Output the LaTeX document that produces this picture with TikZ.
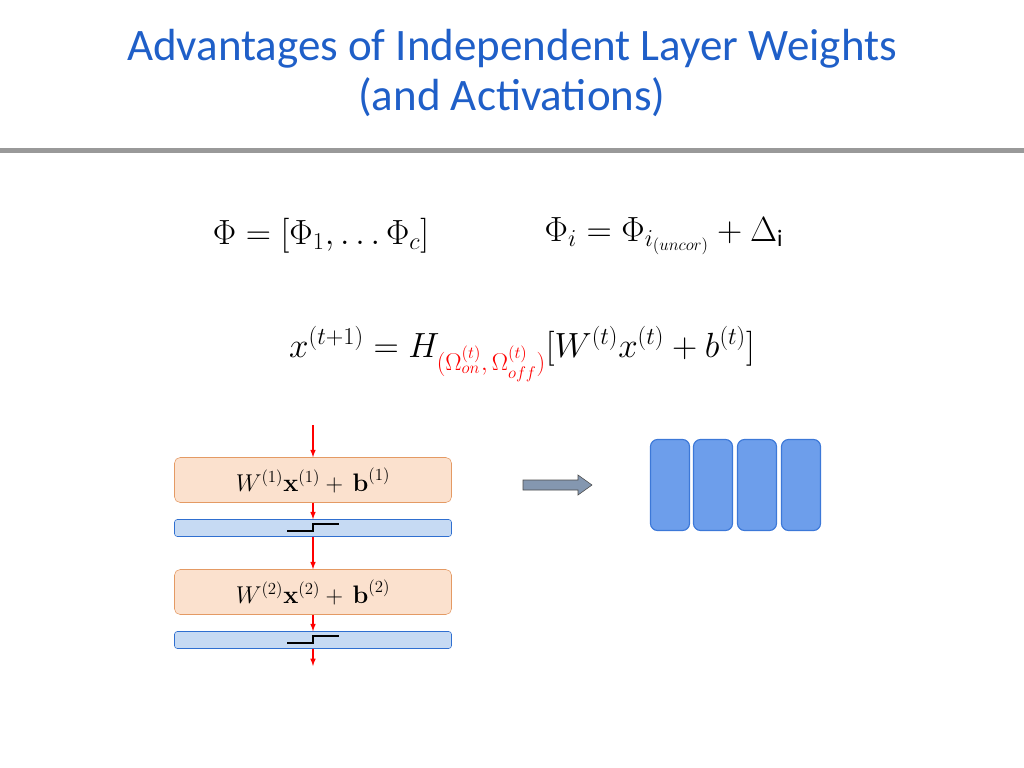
\documentclass[tikz,border=0pt]{standalone}
\usepackage{amsmath}
\usepackage{fontspec}
\setmainfont{Carlito}
\newfontfamily\lmroman{Latin Modern Roman}
\usepackage{tikz}
\definecolor{titleblue}{HTML}{1F5FC8}
\definecolor{layerfill}{HTML}{FBE1CE}
\definecolor{layerdraw}{HTML}{E49A64}
\definecolor{actfill}{HTML}{C6DAF3}
\definecolor{actdraw}{HTML}{2F6FD0}
\definecolor{unitfill}{HTML}{6D9EEB}
\definecolor{unitdraw}{HTML}{3C78D8}
\definecolor{arrowgray}{HTML}{8497B0}
\newcommand{\bvec}[1]{\text{\lmroman\bfseries #1}}
\begin{document}
\begin{tikzpicture}[x=0.025cm,y=-0.025cm,
  layer/.style={draw=layerdraw,fill=layerfill,rounded corners=4pt,minimum width=277*0.025cm,minimum height=45*0.025cm,inner sep=0pt,font=\fontsize{18}{20}\selectfont},
  act/.style={draw=actdraw,fill=actfill,rounded corners=2pt,minimum width=277*0.025cm,minimum height=17*0.025cm,inner sep=0pt},
  unit/.style={draw=unitdraw,fill=unitfill,thick,rounded corners=5pt,minimum width=39*0.025cm,minimum height=91*0.025cm,inner sep=0pt},
  flow/.style={red,thick,-latex},
  eq/.style={font=\fontsize{24}{28}\selectfont}]
\useasboundingbox (0,0) rectangle (1024,768);
% title
\node[titleblue,font=\fontsize{32}{36}\selectfont,align=center] (title) at (512,73) {Advantages of Independent Layer Weights\\(and Activations)};
\fill[gray!80] (0,148) rectangle (1024,153);
% equations
\node[eq] (eqphi) at (321,236) {$\Phi=[\Phi_1,\dots\Phi_c]$};
\node[eq] (eqphii) at (664,236) {$\Phi_i=\Phi_{i_{(uncor)}}+\Delta_{\mathrm{i}}$};
\node[eq] (equpd) at (522,354) {$x^{(t+1)}=H_{\color{red}(\Omega_{on}^{(t)},\,\Omega_{off}^{(t)})}[W^{(t)}x^{(t)}+b^{(t)}]$};
% network
\coordinate (in) at (313,425);
\node[layer] (L1) at (313,480) {$W^{(1)}\bvec{x}^{(1)}+\,\bvec{b}^{(1)}$};
\node[act] (A1) at (313,528) {};
\node[layer] (L2) at (313,592) {$W^{(2)}\bvec{x}^{(2)}+\,\bvec{b}^{(2)}$};
\node[act] (A2) at (313,640) {};
\coordinate (out) at (313,666);
\foreach \a in {A1,A2}
  \draw[thick] ([xshift=-26*0.025cm,yshift=-3*0.025cm]\a.center) -- ++(26,0) -- ++(0,-7) -- ++(26,0);
\draw[flow] (in) -- (L1);
\draw[flow] (L1) -- (A1);
\draw[flow] (A1) -- (L2);
\draw[flow] (L2) -- (A2);
\draw[flow] (A2) -- (out);
% arrow and units
\coordinate (go) at (523,485);
\draw[black!70,fill=arrowgray] (go) ++(0,-5) -- ++(55,0) -- ++(0,-5) -- ++(14,10) -- ++(-14,10) -- ++(0,-5) -- ++(-55,0) -- cycle;
\foreach \i/\x in {1/670,2/713,3/757,4/801}
  \node[unit] (U\i) at (\x,485) {};
\end{tikzpicture}
\end{document}
